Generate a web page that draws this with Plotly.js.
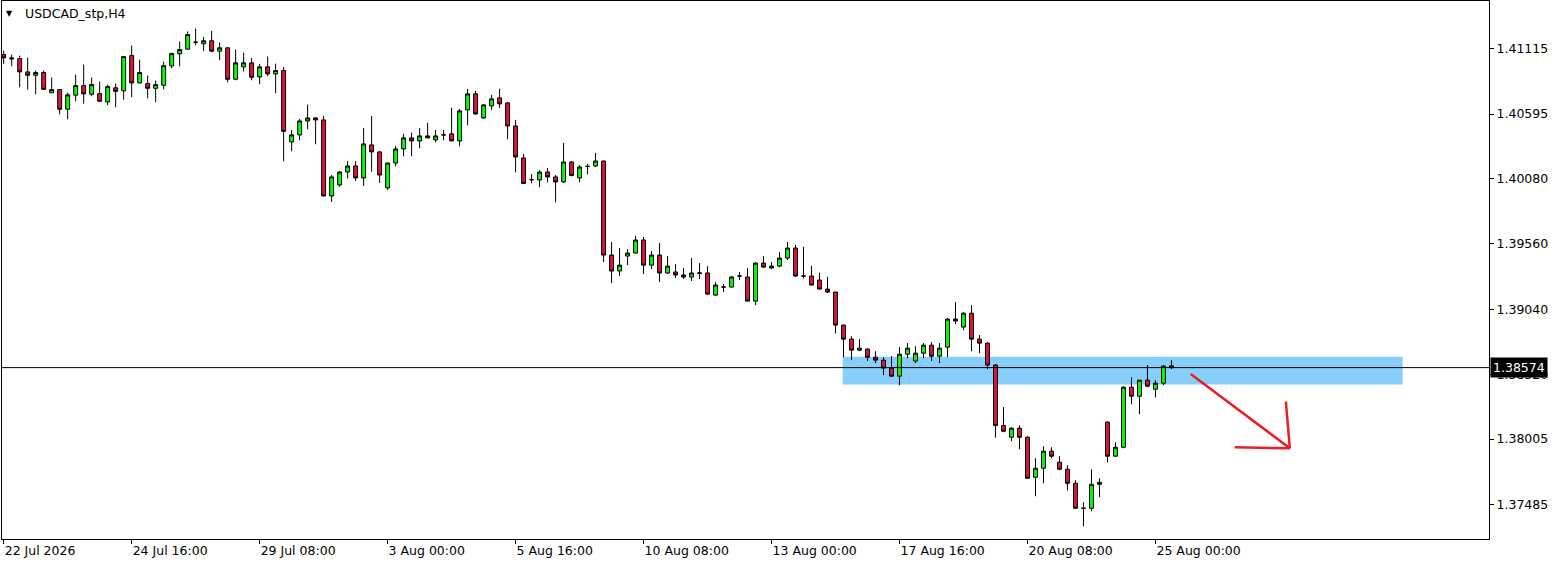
<!DOCTYPE html>
<html>
<head>
<meta charset="utf-8">
<script src="https://cdn.plot.ly/plotly-3.0.1.min.js"></script>
<style>
html,body{margin:0;padding:0;background:#fff;}
#chart{width:1561px;height:566px;}
</style>
</head>
<body>
<div id="chart"></div>
<script>
// ---- Data (USDCAD_stp, H4) ----
const opens = [1.41069,1.41033,1.41037,1.40931,1.40904,1.40926,1.40764,1.40790,1.40633,1.40745,
1.40822,1.40753,1.40758,1.40692,1.40804,1.40780,1.41061,1.40843,1.40838,1.40800,
1.40824,1.40979,1.41075,1.41112,1.41167,1.41155,1.41179,1.41096,1.41123,1.40872,
1.40971,1.41003,1.40891,1.40971,1.40915,1.40942,1.40373,1.40429,1.40540,1.40564,
1.40548,1.39942,1.40030,1.40133,1.40181,1.40086,1.40349,1.40293,1.40006,1.40205,
1.40317,1.40405,1.40381,1.40421,1.40389,1.40429,1.40437,1.40381,1.40628,1.40756,
1.40564,1.40660,1.40724,1.40684,1.40500,1.40245,1.40072,1.40070,1.40133,1.40094,
1.40054,1.40213,1.40086,1.40178,1.40181,1.40221,1.39471,1.39344,1.39463,1.39487,
1.39591,1.39391,1.39471,1.39328,1.39336,1.39312,1.39296,1.39326,1.39328,1.39152,
1.39216,1.39216,1.39304,1.39296,1.39104,1.39407,1.39368,1.39383,1.39447,1.39527,
1.39304,1.39304,1.39272,1.39200,1.39176,1.38913,1.38801,1.38713,1.38721,1.38657,
1.38634,1.38570,1.38506,1.38681,1.38626,1.38689,1.38753,1.38665,1.38737,1.38961,
1.38897,1.39008,1.38801,1.38769,1.38594,1.38112,1.38019,1.38091,1.38019,1.37700,
1.37772,1.37908,1.37820,1.37764,1.37652,1.37453,1.37453,1.37644,1.38139,1.37868,
1.37939,1.38418,1.38346,1.38474,1.38402,1.38450,1.38588];
const highs = [1.41101,1.41069,1.41061,1.41045,1.40942,1.40942,1.40886,1.40791,1.40766,1.40910,
1.40989,1.40886,1.40854,1.40830,1.40838,1.41055,1.41141,1.41029,1.40902,1.40862,
1.41013,1.41085,1.41173,1.41253,1.41277,1.41210,1.41258,1.41165,1.41124,1.41109,
1.41085,1.41043,1.40995,1.41053,1.40997,1.40971,1.40468,1.40556,1.40670,1.40572,
1.40580,1.40109,1.40141,1.40221,1.40221,1.40484,1.40580,1.40301,1.40207,1.40341,
1.40437,1.40447,1.40484,1.40527,1.40468,1.40468,1.40646,1.40636,1.40796,1.40780,
1.40676,1.40748,1.40796,1.40692,1.40548,1.40277,1.40117,1.40149,1.40165,1.40109,
1.40365,1.40221,1.40189,1.40197,1.40285,1.40223,1.39575,1.39527,1.39519,1.39623,
1.39615,1.39503,1.39567,1.39463,1.39399,1.39368,1.39447,1.39407,1.39383,1.39256,
1.39240,1.39304,1.39336,1.39368,1.39415,1.39463,1.39415,1.39495,1.39575,1.39551,
1.39537,1.39386,1.39330,1.39298,1.39178,1.38915,1.38825,1.38801,1.38729,1.38705,
1.38657,1.38665,1.38737,1.38769,1.38745,1.38769,1.38777,1.38769,1.38969,1.39096,
1.39016,1.39072,1.38833,1.38777,1.38602,1.38259,1.38099,1.38115,1.38027,1.37852,
1.37947,1.37939,1.37868,1.37796,1.37676,1.37501,1.37764,1.37692,1.38147,1.37979,
1.38426,1.38498,1.38476,1.38594,1.38474,1.38594,1.38634];
const lows = [1.40995,1.40976,1.40808,1.40790,1.40753,1.40790,1.40762,1.40593,1.40553,1.40697,
1.40678,1.40737,1.40695,1.40665,1.40649,1.40710,1.40729,1.40841,1.40721,1.40689,
1.40792,1.40960,1.40976,1.41110,1.41143,1.41096,1.41088,1.41024,1.40848,1.40864,
1.40934,1.40864,1.40832,1.40896,1.40760,1.40218,1.40298,1.40385,1.40473,1.40354,
1.39940,1.39894,1.40014,1.40082,1.40062,1.40022,1.40136,1.40046,1.39990,1.40178,
1.40258,1.40258,1.40322,1.40403,1.40370,1.40385,1.40379,1.40338,1.40505,1.40588,
1.40556,1.40628,1.40644,1.40393,1.40130,1.40038,1.40042,1.40011,1.40050,1.39891,
1.40046,1.40098,1.40050,1.40114,1.40173,1.39415,1.39248,1.39304,1.39391,1.39485,
1.39320,1.39360,1.39256,1.39320,1.39288,1.39280,1.39264,1.39280,1.39152,1.39144,
1.39176,1.39214,1.39272,1.39102,1.39072,1.39368,1.39360,1.39375,1.39431,1.39296,
1.39285,1.39230,1.39198,1.39168,1.38846,1.38657,1.38634,1.38705,1.38626,1.38610,
1.38514,1.38498,1.38434,1.38649,1.38610,1.38649,1.38626,1.38610,1.38657,1.38921,
1.38873,1.38705,1.38689,1.38562,1.38016,1.38059,1.37987,1.37923,1.37690,1.37549,
1.37652,1.37852,1.37756,1.37596,1.37451,1.37309,1.37429,1.37541,1.37820,1.37866,
1.37931,1.38281,1.38203,1.38418,1.38338,1.38434,1.38562];
const closes = [1.41043,1.41041,1.40931,1.40904,1.40926,1.40792,1.40790,1.40633,1.40748,1.40822,
1.40756,1.40830,1.40697,1.40814,1.40776,1.41053,1.40843,1.40926,1.40800,1.40830,
1.40981,1.41077,1.41109,1.41229,1.41167,1.41179,1.41096,1.41123,1.40872,1.41003,
1.41003,1.40888,1.40971,1.40915,1.40942,1.40457,1.40429,1.40540,1.40564,1.40548,
1.39942,1.40094,1.40133,1.40181,1.40086,1.40357,1.40293,1.40109,1.40205,1.40317,
1.40405,1.40381,1.40421,1.40405,1.40421,1.40429,1.40381,1.40620,1.40756,1.40596,
1.40668,1.40716,1.40676,1.40500,1.40253,1.40042,1.40072,1.40133,1.40094,1.40054,
1.40213,1.40106,1.40173,1.40178,1.40221,1.39471,1.39344,1.39391,1.39487,1.39591,
1.39391,1.39471,1.39328,1.39383,1.39312,1.39296,1.39328,1.39328,1.39160,1.39232,
1.39216,1.39296,1.39304,1.39104,1.39407,1.39375,1.39383,1.39447,1.39527,1.39304,
1.39304,1.39232,1.39200,1.39176,1.38913,1.38801,1.38713,1.38729,1.38657,1.38634,
1.38570,1.38506,1.38681,1.38729,1.38689,1.38753,1.38665,1.38729,1.38961,1.38945,
1.39008,1.38801,1.38769,1.38594,1.38112,1.38067,1.38091,1.38019,1.37692,1.37772,
1.37908,1.37868,1.37764,1.37652,1.37453,1.37453,1.37644,1.37660,1.37868,1.37939,
1.38418,1.38346,1.38474,1.38426,1.38450,1.38586,1.38574];

// time-axis labels (bar index -> label)
const tickBars = [0,16,32,48,64,80,96,112,128,144];
const tickLabels = ["22 Jul 2026","24 Jul 16:00","29 Jul 08:00","3 Aug 00:00","5 Aug 16:00",
  "10 Aug 08:00","13 Aug 00:00","17 Aug 16:00","20 Aug 08:00","25 Aug 00:00"];
const priceTicks = [1.41115,1.40595,1.40080,1.39560,1.39040,1.38520,1.38005,1.37485];
const priceTickLabels = ["1.41115","1.40595","1.40080","1.39560","1.39040","1.38520","1.38005","1.37485"];

const currentPrice = 1.38574;
const symbolTitle = "USDCAD_stp,H4";

// drawn objects (bar index / price)
const zoneBars = [104.9, 174.9];
const zonePrices = [1.38439, 1.38660];
const arrowShaftBars = [148.4, 160.8];
const arrowShaftPrices = [1.38524, 1.37931];
const arrowHeadHBars = [153.9, 160.8];
const arrowHeadHPrices = [1.37940, 1.37931];
const arrowHeadVBars = [160.3, 160.8];
const arrowHeadVPrices = [1.38303, 1.37931];

const xRange = [-0.21, 185.7];
const yRange = [1.37208, 1.41496];

const bars = opens.map((_, i) => i);
const FONT = "DejaVu Sans";

const trace = {
  type: 'candlestick',
  x: bars, open: opens, high: highs, low: lows, close: closes,
  increasing: {line: {color: '#000000', width: 1}, fillcolor: '#00FF00'},
  decreasing: {line: {color: '#000000', width: 1}, fillcolor: '#DC143C'},
  whiskerwidth: 0,
  hoverinfo: 'skip',
  showlegend: false
};

const red = '#ED1C24';
const layout = {
  width: 1561, height: 566,
  margin: {l: 2, r: 72, t: 1, b: 27},
  paper_bgcolor: '#ffffff', plot_bgcolor: '#ffffff',
  showlegend: false,
  font: {family: FONT, size: 12.5, color: '#000000'},
  xaxis: {
    type: 'linear', range: xRange, fixedrange: true,
    rangeslider: {visible: false},
    showgrid: false, zeroline: false,
    showline: true, mirror: true, linecolor: '#000000', linewidth: 1,
    tickmode: 'array', tickvals: tickBars, ticktext: tickLabels,
    ticks: 'outside', ticklen: 4, tickcolor: '#000000', tickwidth: 1,
    ticklabelposition: 'outside right',
    tickfont: {family: FONT, size: 12.5, color: '#000000'}
  },
  yaxis: {
    side: 'right', range: yRange, fixedrange: true,
    showgrid: false, zeroline: false,
    showline: true, mirror: true, linecolor: '#000000', linewidth: 1,
    tickmode: 'array', tickvals: priceTicks, ticktext: priceTickLabels,
    ticks: 'outside', ticklen: 4, tickcolor: '#000000', tickwidth: 1,
    tickfont: {family: FONT, size: 12.5, color: '#000000'}
  },
  shapes: [
    {type: 'rect', xref: 'x', yref: 'y', layer: 'below',
     x0: zoneBars[0], x1: zoneBars[1], y0: zonePrices[0], y1: zonePrices[1],
     fillcolor: '#87CEFA', line: {width: 0}},
    {type: 'line', xref: 'paper', yref: 'y', layer: 'above',
     x0: 0, x1: 1, y0: currentPrice, y1: currentPrice,
     line: {color: '#000000', width: 1}},
    {type: 'line', xref: 'x', yref: 'y', x0: arrowShaftBars[0], x1: arrowShaftBars[1],
     y0: arrowShaftPrices[0], y1: arrowShaftPrices[1], line: {color: red, width: 2.5}},
    {type: 'line', xref: 'x', yref: 'y', x0: arrowHeadHBars[0], x1: arrowHeadHBars[1],
     y0: arrowHeadHPrices[0], y1: arrowHeadHPrices[1], line: {color: red, width: 2.5}},
    {type: 'line', xref: 'x', yref: 'y', x0: arrowHeadVBars[0], x1: arrowHeadVBars[1],
     y0: arrowHeadVPrices[0], y1: arrowHeadVPrices[1], line: {color: red, width: 2.5}}
  ],
  annotations: [
    {xref: 'paper', yref: 'paper', x: 0, y: 1, xanchor: 'left', yanchor: 'middle',
     xshift: 2, yshift: -12, text: '▼', showarrow: false,
     font: {family: FONT, size: 8, color: '#000000'}},
    {xref: 'paper', yref: 'paper', x: 0, y: 1, xanchor: 'left', yanchor: 'middle',
     xshift: 21, yshift: -12, text: symbolTitle, showarrow: false,
     font: {family: FONT, size: 12.5, color: '#000000'}},
    {xref: 'paper', yref: 'y', x: 1, y: currentPrice, xanchor: 'left', yanchor: 'middle',
     xshift: 1, text: currentPrice.toFixed(5), showarrow: false,
     bgcolor: '#000000', borderpad: 2,
     font: {family: FONT, size: 12.5, color: '#ffffff'}}
  ]
};

Plotly.newPlot('chart', [trace], layout, {displayModeBar: false, staticPlot: true});
</script>
</body>
</html>
